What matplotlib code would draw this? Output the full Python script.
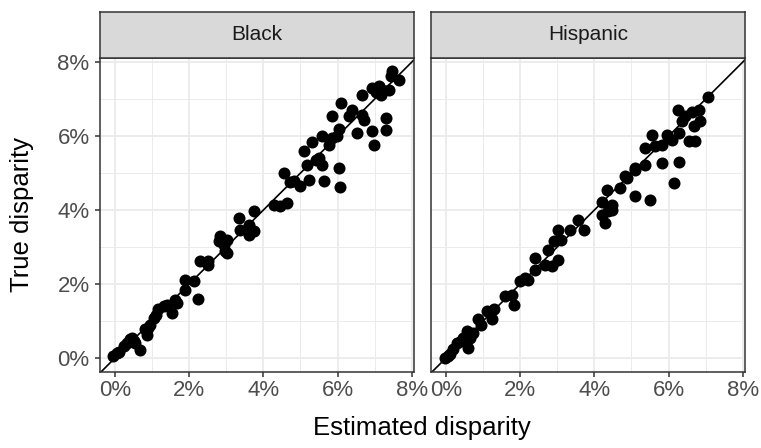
import numpy as np
import matplotlib
matplotlib.use("Agg")
from matplotlib import pyplot as plt
from matplotlib.ticker import MultipleLocator, FuncFormatter

plt.rcParams["font.family"] = ["Liberation Sans", "DejaVu Sans"]

# values, in percent
black_est = [-0.05, 0.04, 0.1, 0.23, 0.32, 0.45, 0.5, 0.4, 0.68, 0.55, 0.81, 0.86, 0.9, 0.95,
             1.04, 1.1, 1.17, 1.31, 1.4, 1.53, 1.62, 1.67, 1.89, 1.89, 2.12, 2.25, 2.3, 2.52,
             2.5, 2.79, 2.84, 2.93, 3.02, 2.97, 3.02, 3.33, 3.38, 3.6, 3.74, 3.6, 3.74, 4.28,
             4.46, 4.64, 4.55, 4.73, 4.82, 5.0, 5.23, 5.09, 5.18, 5.32, 5.41, 5.5, 5.59, 5.63,
             5.59, 5.77, 5.86, 5.99, 5.86, 6.04, 6.04, 6.06, 6.08, 6.31, 6.4, 6.53, 6.67, 6.71,
             6.67, 6.94, 6.98, 6.94, 7.03, 7.12, 7.16, 7.21, 7.3, 7.3, 7.39, 7.43, 7.48, 7.66]
black_true = [0.04, 0.13, 0.15, 0.31, 0.41, 0.54, 0.45, 0.5, 0.22, 0.4, 0.77, 0.63, 0.8, 0.9,
              1.08, 1.15, 1.31, 1.4, 1.44, 1.22, 1.58, 1.49, 1.85, 2.12, 2.07, 1.59, 2.61, 2.61,
              2.52, 3.15, 3.29, 3.05, 3.2, 2.88, 2.84, 3.78, 3.47, 3.33, 3.42, 3.6, 3.96, 4.14,
              4.1, 4.19, 5.0, 4.77, 4.78, 4.64, 4.82, 5.6, 5.22, 5.84, 5.36, 5.4, 5.22, 4.78,
              5.99, 5.75, 5.95, 5.99, 6.53, 6.2, 5.13, 4.61, 6.89, 6.53, 6.71, 6.08, 6.58, 6.44,
              7.12, 6.14, 5.75, 7.29, 7.2, 7.34, 7.12, 7.25, 6.49, 6.17, 7.25, 7.61, 7.75, 7.52]

hisp_est = [-0.03, 0.05, 0.11, 0.2, 0.29, 0.4, 0.47, 0.6, 0.56, 0.74, 0.65, 0.87, 0.95, 1.1,
            1.28, 1.23, 1.59, 1.77, 1.82, 2.0, 2.13, 2.22, 2.4, 2.4, 2.67, 2.76, 2.85, 2.9,
            3.03, 3.03, 3.1, 3.35, 3.57, 3.71, 4.2, 4.29, 4.2, 4.34, 4.38, 4.47, 4.47, 4.7,
            4.83, 4.88, 5.1, 5.1, 5.1, 5.37, 5.51, 5.37, 5.64, 5.55, 5.82, 5.82, 5.95, 6.09,
            6.27, 6.27, 6.14, 6.26, 6.36, 6.45, 6.54, 6.63, 6.68, 6.72, 6.81, 6.85, 7.06]
hisp_true = [0.0, 0.06, 0.12, 0.25, 0.4, 0.45, 0.54, 0.27, 0.72, 0.68, 0.55, 1.04, 0.9, 1.26,
             1.31, 1.04, 1.67, 1.71, 1.44, 2.07, 2.16, 2.12, 2.7, 2.39, 2.52, 2.92, 2.48, 3.15,
             2.66, 3.47, 3.2, 3.47, 3.74, 3.47, 3.87, 3.65, 4.23, 4.55, 3.96, 4.0, 4.14, 4.59,
             4.91, 4.86, 5.09, 4.37, 5.14, 5.22, 4.28, 5.68, 5.72, 6.04, 5.77, 5.27, 6.04, 5.9,
             6.08, 5.31, 4.73, 6.71, 6.4, 6.53, 5.86, 6.66, 6.26, 5.86, 6.71, 6.4, 7.05]

groups = ["Black", "Hispanic"]
est = [black_est, hisp_est]
true = [black_true, hisp_true]

W, H = 761, 448
fig = plt.figure(figsize=(W / 100, H / 100), dpi=100)

edge = "#333333"
pct = FuncFormatter(lambda v, p: "%d%%" % round(v))

panel_left = [100, 431]
panel_w = 314
panel_top, panel_bot = 58, 372
strip_top = 12

for i, name in enumerate(groups):
    x0 = panel_left[i]
    ax = fig.add_axes([x0 / W, (H - panel_bot) / H, panel_w / W, (panel_bot - panel_top) / H])
    ax.set_xlim(-0.405, 8.06)
    ax.set_ylim(-0.38, 8.11)
    ax.xaxis.set_major_locator(MultipleLocator(2))
    ax.xaxis.set_minor_locator(MultipleLocator(1))
    ax.yaxis.set_major_locator(MultipleLocator(2))
    ax.yaxis.set_minor_locator(MultipleLocator(1))
    ax.xaxis.set_major_formatter(pct)
    ax.yaxis.set_major_formatter(pct)
    ax.grid(which="major", color="#EBEBEB", lw=1.3, zorder=0)
    ax.grid(which="minor", color="#EBEBEB", lw=0.7, zorder=0)
    ax.set_axisbelow(True)
    for s in ax.spines.values():
        s.set_color(edge)
        s.set_linewidth(1.1)
    ax.tick_params(which="major", length=3.5, width=1.1, color=edge,
                   labelsize=16, labelcolor="#4D4D4D", pad=2)
    ax.tick_params(axis="y", pad=4)
    ax.tick_params(which="minor", length=0)
    if i > 0:
        ax.tick_params(axis="y", labelleft=False, length=0)

    ax.axline((0, 0), slope=1, color="black", lw=1.2, zorder=2)
    ax.scatter(est[i], true[i], s=75, color="black", linewidths=0, zorder=3)

    sax = fig.add_axes([x0 / W, (H - panel_top) / H, panel_w / W, (panel_top - strip_top) / H])
    sax.set_facecolor("#D9D9D9")
    sax.set_xticks([])
    sax.set_yticks([])
    for s in sax.spines.values():
        s.set_color(edge)
        s.set_linewidth(1.1)
    sax.text(0.5, 0.5, name, ha="center", va="center", fontsize=15,
             color="#1A1A1A", transform=sax.transAxes)

fig.text(422 / W, 1 - 428 / H, "Estimated disparity", ha="center", va="center", fontsize=18.5)
fig.text(22 / W, 1 - 215 / H, "True disparity", ha="center", va="center",
         rotation=90, fontsize=18.5)

fig.savefig("out.png", dpi=100)
